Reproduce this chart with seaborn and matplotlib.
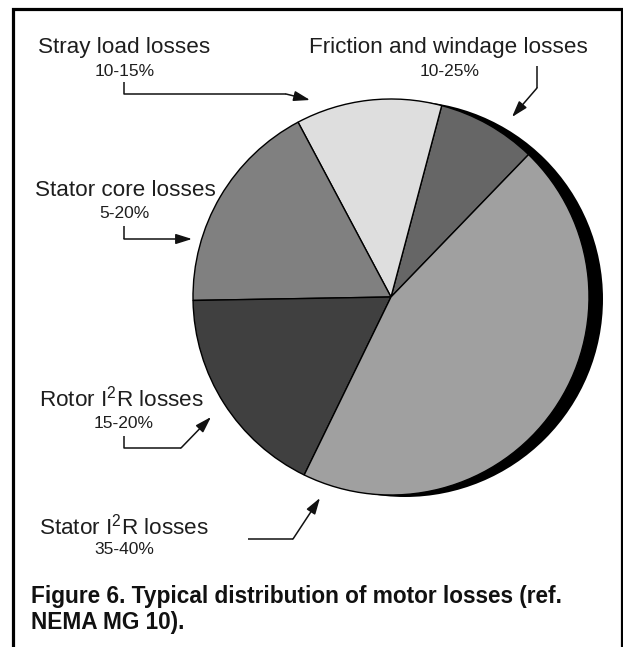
import matplotlib
matplotlib.use("Agg")
import matplotlib.pyplot as plt
import seaborn as sns
from matplotlib.patches import Circle

sns.set_theme(style="white")
plt.rcParams["font.family"] = ["Liberation Sans", "DejaVu Sans"]
plt.rcParams["mathtext.fontset"] = "custom"
plt.rcParams["mathtext.rm"] = "Liberation Sans"
plt.rcParams["mathtext.it"] = "Liberation Sans:italic"
plt.rcParams["mathtext.bf"] = "Liberation Sans:bold"

# Loss categories, counter-clockwise from the friction slice
loss_names = [
    "Friction and windage losses",
    "Stray load losses",
    "Stator core losses",
    r"Rotor I$^{\mathrm{2}}$R losses",
    r"Stator I$^{\mathrm{2}}$R losses",
]
loss_ranges = ["10-25%", "10-15%", "5-20%", "15-20%", "35-40%"]
slice_shares = [8.1, 11.9, 17.5, 17.5, 45.0]
slice_colors = ["#666666", "#dedede", "#808080", "#404040", "#a0a0a0"]

caption_lines = [
    "Figure 6. Typical distribution of motor losses (ref.",
    "NEMA MG 10).",
]

W, H = 623, 647
TXT = "#1e1e1e"


def Y(y):
    """Convert a top-down pixel row into the axes' bottom-up coordinate."""
    return H - y


# Label placement (name centre, range centre) and leader paths ending in an arrow tip
label_pos = [
    ((448, 48), (450, 72)),
    ((124, 48), (125, 72)),
    ((125, 190), (124, 213)),
    ((121, 399), (124, 423)),
    ((124, 527), (124, 550)),
]
leaders = [
    ([(537, 66), (537, 88)], (512, 117)),
    ([(124, 82), (124, 94), (286, 94)], (310, 100)),
    ([(124, 226), (124, 239)], (192, 239)),
    ([(124, 436), (124, 448), (181, 448)], (211, 417)),
    ([(248, 539), (293, 539)], (320, 498)),
]

pie_center = (391, Y(297))
pie_radius = 198

fig = plt.figure(figsize=(W / 100, H / 100), dpi=100)
fig.patch.set_facecolor("white")
ax = fig.add_axes([0, 0, 1, 1])

# Solid black disc offset to the right gives the pie its raised edge
ax.add_patch(Circle((pie_center[0] + 14, pie_center[1] - 2), pie_radius,
                    facecolor="black", edgecolor="none", zorder=0))

ax.pie(
    slice_shares,
    colors=slice_colors,
    startangle=46,
    counterclock=True,
    radius=pie_radius,
    center=pie_center,
    wedgeprops=dict(edgecolor="black", linewidth=1.0),
    frame=False,
)

for name, rng, (npos, rpos) in zip(loss_names, loss_ranges, label_pos):
    ax.text(npos[0], Y(npos[1]), name, ha="center", va="center",
            fontsize=16.2, color=TXT)
    ax.text(rpos[0], Y(rpos[1]), rng, ha="center", va="center",
            fontsize=12.5, color=TXT)

for path, tip in leaders:
    xs = [p[0] for p in path]
    ys = [Y(p[1]) for p in path]
    ax.plot(xs, ys, color="#111111", lw=1.1, solid_capstyle="butt")
    ax.annotate(
        "", xy=(tip[0], Y(tip[1])), xytext=(xs[-1], ys[-1]),
        arrowprops=dict(arrowstyle="-|>,head_length=0.7,head_width=0.22",
                        color="#111111", lw=1.1, shrinkA=0, shrinkB=0,
                        mutation_scale=14),
    )

for i, line in enumerate(caption_lines):
    ax.text(31, Y(597 + 25 * i), line, ha="left", va="center",
            fontsize=16.3, fontweight="bold", color="#111111")

# Open-bottomed frame round the figure
ax.plot([13, 13, 622, 622], [Y(H), Y(9), Y(9), Y(H)], color="black",
        lw=2.3, solid_joinstyle="miter", clip_on=False)

ax.set_xlim(0, W)
ax.set_ylim(0, H)
ax.set_aspect("equal")
ax.axis("off")

fig.savefig("out.png", dpi=100, facecolor="white")
